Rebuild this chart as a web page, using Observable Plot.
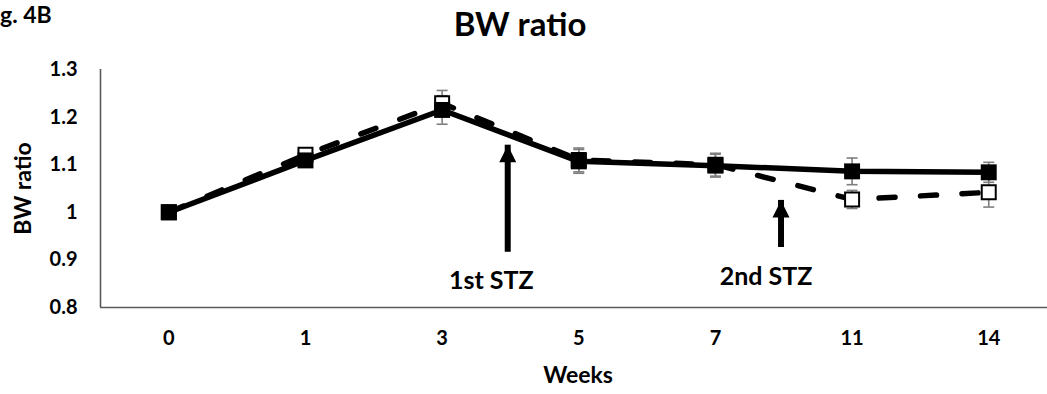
<!DOCTYPE html>
<html>
<head>
<meta charset="utf-8">
<script src="https://cdn.jsdelivr.net/npm/d3@7"></script>
<script src="https://cdn.jsdelivr.net/npm/@observablehq/plot@0.6"></script>
<style>
  html, body { margin: 0; padding: 0; background: #fff; }
  #wrap { position: relative; width: 1047px; height: 394px; overflow: hidden; font-family: Lato, sans-serif; font-weight: bold; color: #000; }
  #head { position: relative; width: 1047px; height: 52px; }
  #fig { position: absolute; left: 0px; top: 3px; font-size: 23px; line-height: 23px; white-space: nowrap; }
  #title { position: absolute; left: 520px; transform: translateX(-50%); top: 7px; font-size: 33px; line-height: 33px; white-space: nowrap; }
  svg { display: block; }
</style>
</head>
<body>
<div id="wrap">
  <div id="head"><div id="fig">g. 4B</div><div id="title">BW ratio</div></div>
  <div id="chart"></div>
</div>
<script>
// ---- data ----
const weeks = ["0", "1", "3", "5", "7", "11", "14"];
const controlMean = [1.0, 1.109, 1.215, 1.107, 1.098, 1.086, 1.084];
const controlSem  = [0, 0.008, 0.03, 0.025, 0.024, 0.028, 0.021];
const stzMean     = [1.0, 1.121, 1.229, 1.110, 1.100, 1.027, 1.042];
const stzSem      = [0, 0.008, 0.027, 0.025, 0.024, 0.019, 0.031];
const yTicks = [0.8, 0.9, 1.0, 1.1, 1.2, 1.3];
const stzLabels = ["1st STZ", "2nd STZ"];
const stzArrowPos = [2.48, 4.48];      // position between week categories
const stzArrowTip = [1.141, 1.025];
const stzArrowBase = [0.916, 0.926];
const stzLabelPos = [2.36, 4.37];
const stzLabelY = [0.855, 0.864];

const control = weeks.map((w, i) => ({i, week: w, mean: controlMean[i], sem: controlSem[i]}));
const stz = weeks.map((w, i) => ({i, week: w, mean: stzMean[i], sem: stzSem[i]}));
const arrows = stzLabels.map((label, k) => ({label, x: stzArrowPos[k], tip: stzArrowTip[k], base: stzArrowBase[k], lx: stzLabelPos[k], ly: stzLabelY[k]}));

// custom symbols
const capSymbol = { draw(ctx, size) { const w = 11; ctx.moveTo(-w / 2, 0); ctx.lineTo(w / 2, 0); } };
const headSymbol = { draw(ctx, size) { ctx.moveTo(0, 0); ctx.lineTo(-8.5, 17); ctx.lineTo(8.5, 17); ctx.closePath(); } };

const errColor = "#7f7f7f";
const errMarks = (data) => [
  Plot.ruleX(data.filter(d => d.sem > 0), {x: "i", y1: d => d.mean - d.sem, y2: d => d.mean + d.sem, stroke: errColor, strokeWidth: 1.6}),
  Plot.dot(data.filter(d => d.sem > 0), {x: "i", y: d => d.mean + d.sem, symbol: capSymbol, stroke: errColor, strokeWidth: 1.6, r: 3}),
  Plot.dot(data.filter(d => d.sem > 0), {x: "i", y: d => d.mean - d.sem, symbol: capSymbol, stroke: errColor, strokeWidth: 1.6, r: 3})
];

const chart = Plot.plot({
  width: 1047,
  height: 342,
  marginLeft: 100,
  marginRight: 0,
  marginTop: 17,
  marginBottom: 87,
  style: {fontFamily: "Lato, sans-serif", fontWeight: "bold", color: "#000", background: "#fff"},
  x: {type: "linear", domain: [-0.5, 6.43], axis: null},
  y: {domain: [0.8, 1.3], axis: null},
  marks: [
    Plot.axisY({ticks: yTicks, tickSize: 0, tickPadding: 23, fontSize: 20, tickFormat: d => String(+d.toFixed(1))}),
    Plot.axisX({ticks: d3.range(weeks.length), tickSize: 0, tickPadding: 23, fontSize: 20, tickFormat: i => weeks[i]}),
    Plot.ruleX([-0.5], {stroke: "#595959", strokeWidth: 1.6}),
    Plot.ruleY([0.8], {stroke: "#595959", strokeWidth: 1.6}),
    ...errMarks(stz),
    ...errMarks(control),
    Plot.line(stz, {x: "i", y: "mean", stroke: "#000", strokeWidth: 5.5, strokeDasharray: "16,25.5", strokeLinecap: "round", strokeLinejoin: "round"}),
    Plot.dot(stz, {x: "i", y: "mean", symbol: "square", r: 7.9, fill: "#fff", stroke: "#000", strokeWidth: 2}),
    Plot.line(control, {x: "i", y: "mean", stroke: "#000", strokeWidth: 5.5, strokeLinejoin: "round"}),
    Plot.dot(control, {x: "i", y: "mean", symbol: "square", r: 9, fill: "#000", stroke: "none"}),
    // arrows
    Plot.ruleX(arrows, {x: "x", y1: "base", y2: "tip", stroke: "#000", strokeWidth: 6}),
    Plot.dot(arrows, {x: "x", y: "tip", symbol: headSymbol, fill: "#000", stroke: "none", r: 5}),
    Plot.text(arrows, {x: "lx", y: "ly", text: "label", fontSize: 25, fill: "#000"}),
    // axis titles
    Plot.text(["BW ratio"], {frameAnchor: "left", textAnchor: "middle", rotate: -90, dx: -77, fontSize: 23, fill: "#000"}),
    Plot.text(["Weeks"], {frameAnchor: "bottom", textAnchor: "middle", dx: 4, dy: 75, fontSize: 23, fill: "#000"})
  ]
});
document.getElementById("chart").appendChild(chart);
</script>
</body>
</html>
